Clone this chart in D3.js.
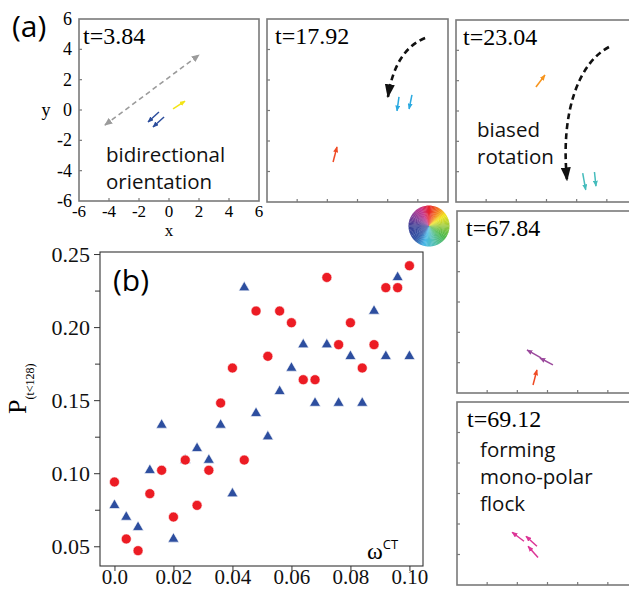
<!DOCTYPE html>
<html>
<head>
<meta charset="utf-8">
<script src="https://cdn.jsdelivr.net/npm/d3@7"></script>
<style>
  body { margin: 0; background: #fff; }
  svg { display: block; }
</style>
</head>
<body>
<svg id="fig"></svg>
<script>
const width = 629
const height = 589

// ---- (b) scatter data ----
const omega = [0, 0.004, 0.008, 0.012, 0.016, 0.020, 0.024, 0.028, 0.032, 0.036, 0.040, 0.044, 0.048,
               0.052, 0.056, 0.060, 0.064, 0.068, 0.072, 0.076, 0.080, 0.084, 0.088, 0.092, 0.096, 0.100]
const pCircle = [0.094, 0.055, 0.047, 0.086, 0.102, 0.070, 0.109, 0.078, 0.102, 0.148, 0.172, 0.109, 0.211,
                 0.180, 0.211, 0.203, 0.164, 0.164, 0.234, 0.188, 0.203, 0.172, 0.188, 0.227, 0.227, 0.242]
const pTriangle = [0.078, 0.070, 0.063, 0.102, 0.133, 0.055, 0.109, 0.117, 0.109, 0.133, 0.086, 0.227, 0.141,
                   0.125, 0.156, 0.172, 0.188, 0.148, 0.188, 0.148, 0.180, 0.148, 0.211, 0.180, 0.234, 0.180]
const yMajor = [0.05, 0.10, 0.15, 0.20, 0.25]
const yMinor = [0.075, 0.125, 0.175, 0.225]
const xTicks = [0, 0.02, 0.04, 0.06, 0.08, 0.10]

// ---- (a) snapshot data ----
const times = ['t=3.84', 't=17.92', 't=23.04', 't=67.84', 't=69.12']
const gridTicks = [-6, -4, -2, 0, 2, 4, 6]
// panel, tail x, tail y, head x, head y, heading group
const arrows = [
  [0, -0.67, -0.13, -1.40, -0.79, 'blue'],
  [0, -0.33, -0.46, -1.07, -1.12, 'blue'],
  [0, 0.27, 0.07, 1.07, 0.59, 'yellow'],
  [1, 2.75, 0.89, 2.62, -0.03, 'cyan'],
  [1, 3.61, 1.02, 3.42, 0.10, 'cyan'],
  [1, -1.62, -3.38, -1.36, -2.39, 'red'],
  [2, -0.70, 1.58, -0.10, 2.37, 'orange'],
  [2, 2.40, -4.10, 2.60, -5.20, 'teal'],
  [2, 3.18, -4.02, 3.28, -4.95, 'teal'],
  [3, 0.36, -4.15, -0.50, -3.69, 'purple'],
  [3, -0.43, -3.69, -1.36, -3.16, 'purple'],
  [3, -0.96, -5.47, -0.70, -4.48, 'red'],
  [4, -1.56, -3.13, -2.35, -2.54, 'magenta'],
  [4, -0.70, -3.46, -1.43, -2.80, 'magenta'],
  [4, -0.63, -4.19, -1.29, -3.46, 'magenta']
]
// bidirectional guide in panel 1
const guide = [[-4.27, -0.99], [2.0, 3.63]]
// dashed rotation paths: panel, control points
const flows = [
  [1, [[4.48, 4.75], [2.49, 3.97], [2.02, 0.89]]],
  [2, [[4.14, 4.22], [2.22, 3.23], [0.90, 0.07], [1.36, -4.55]]]
]
const notes = [
  [0, ['bidirectional', 'orientation']],
  [2, ['biased', 'rotation']],
  [4, ['forming', 'mono-polar', 'flock']]
]

// ---- layout / styles ----
const frames = [
  { x: 79, y: 19, w: 180, h: 182, tx: 4, nx: 27, ny: 143 },
  { x: 267, y: 19, w: 181, h: 183, tx: 8 },
  { x: 456, y: 20, w: 181, h: 182, tx: 7, nx: 21, ny: 117 },
  { x: 457, y: 211, w: 181, h: 182, tx: 9 },
  { x: 457, y: 402, w: 181, h: 183, tx: 10, nx: 23, ny: 55 }
]
const headingColor = {
  blue: '#2c4d9c', yellow: '#f3e417', cyan: '#2aa9e0', red: '#ef4a24',
  orange: '#f7941d', teal: '#45bcbc', purple: '#9b4a9d', magenta: '#dc3596'
}
const serif = '"Liberation Serif", "DejaVu Serif", serif'
const sans = '"Open Sans", "Noto Sans", sans-serif'

const svg = d3.select('#fig')
  .attr('width', width)
  .attr('height', height)
  .style('background', '#fff')
const defs = svg.append('defs')

function addHead(id, color, w, h) {
  defs.append('marker')
    .attr('id', id)
    .attr('viewBox', '0 0 10 10')
    .attr('refX', 9)
    .attr('refY', 5)
    .attr('markerWidth', w)
    .attr('markerHeight', h)
    .attr('markerUnits', 'userSpaceOnUse')
    .attr('preserveAspectRatio', 'none')
    .attr('orient', 'auto-start-reverse')
    .append('path')
    .attr('d', 'M0,0 L10,5 L0,10 z')
    .attr('fill', color)
}
Object.keys(headingColor).forEach(k => addHead('head-' + k, headingColor[k], 6, 5))
addHead('head-gray', '#9b9b9b', 8, 7)
addHead('head-big', '#111', 14, 10)

// ---- panels (a) ----
frames.forEach((f, i) => {
  const sx = d3.scaleLinear().domain([-6, 6]).range([f.x, f.x + f.w])
  const sy = d3.scaleLinear().domain([-6, 6]).range([f.y + f.h, f.y])
  const g = svg.append('g')

  g.append('rect')
    .attr('x', f.x).attr('y', f.y)
    .attr('width', f.w).attr('height', f.h)
    .attr('fill', '#fff')
    .attr('stroke', '#7a7a7a')
    .attr('stroke-width', 1.6)

  // inner ticks left & bottom
  g.selectAll('.ty').data(gridTicks.slice(1, -1)).join('line')
    .attr('x1', f.x).attr('x2', f.x + 3)
    .attr('y1', d => sy(d)).attr('y2', d => sy(d))
    .attr('stroke', '#7a7a7a').attr('stroke-width', 1.2)
  g.selectAll('.tx').data(gridTicks.slice(1, -1)).join('line')
    .attr('y1', f.y + f.h).attr('y2', f.y + f.h - 3)
    .attr('x1', d => sx(d)).attr('x2', d => sx(d))
    .attr('stroke', '#7a7a7a').attr('stroke-width', 1.2)

  if (i === 0) {
    g.selectAll('.ly').data(gridTicks).join('text')
      .attr('x', f.x - 7)
      .attr('y', d => sy(d))
      .attr('dy', '0.33em')
      .attr('text-anchor', 'end')
      .style('font', `18px ${serif}`)
      .text(d => d)
    g.selectAll('.lx').data(gridTicks).join('text')
      .attr('x', d => sx(d))
      .attr('y', f.y + f.h + 16)
      .attr('text-anchor', 'middle')
      .style('font', `17px ${serif}`)
      .text(d => d)
    g.append('text').attr('x', 46).attr('y', sy(0)).attr('dy', '0.33em')
      .attr('text-anchor', 'middle').style('font', `18px ${serif}`).text('y')
    g.append('text').attr('x', sx(0)).attr('y', f.y + f.h + 35)
      .attr('text-anchor', 'middle').style('font', `17px ${serif}`).text('x')

    g.append('line')
      .attr('x1', sx(guide[0][0])).attr('y1', sy(guide[0][1]))
      .attr('x2', sx(guide[1][0])).attr('y2', sy(guide[1][1]))
      .attr('stroke', '#9b9b9b')
      .attr('stroke-width', 1.6)
      .attr('stroke-dasharray', '5,3.5')
      .attr('marker-start', 'url(#head-gray)')
      .attr('marker-end', 'url(#head-gray)')
  }

  g.append('text')
    .attr('x', f.x + f.tx)
    .attr('y', f.y + 25)
    .style('font', `24px ${serif}`)
    .text(times[i])

  flows.filter(d => d[0] === i).forEach(d => {
    const p = d3.path()
    const pts = d[1].map(q => [sx(q[0]), sy(q[1])])
    p.moveTo(...pts[0])
    if (pts.length === 3) p.quadraticCurveTo(...pts[1], ...pts[2])
    else p.bezierCurveTo(...pts[1], ...pts[2], ...pts[3])
    g.append('path')
      .attr('d', p.toString())
      .attr('fill', 'none')
      .attr('stroke', '#111')
      .attr('stroke-width', 2.6)
      .attr('stroke-dasharray', '6,4')
      .attr('marker-end', 'url(#head-big)')
  })

  g.selectAll('.arrow').data(arrows.filter(d => d[0] === i)).join('line')
    .attr('x1', d => sx(d[1])).attr('y1', d => sy(d[2]))
    .attr('x2', d => sx(d[3])).attr('y2', d => sy(d[4]))
    .attr('stroke', d => headingColor[d[5]])
    .attr('stroke-width', 1.5)
    .attr('marker-end', d => `url(#head-${d[5]})`)

  notes.filter(d => d[0] === i).forEach(d => {
    g.selectAll('.note').data(d[1]).join('text')
      .attr('x', f.x + f.nx)
      .attr('y', (t, k) => f.y + f.ny + k * 27)
      .style('font', `20.5px ${sans}`)
      .attr('fill', '#111')
      .text(t => t)
  })
})

// colour wheel (heading legend)
const wheelStops = [0, 30, 55, 95, 125, 165, 195, 225, 270, 305, 335, 360]
const wheelColors = ['#e8202a', '#f37a21', '#f4e51c', '#8dc63f', '#4db848', '#55c0b4', '#48b9e9',
                     '#2f53a4', '#3a3f95', '#8a3e97', '#c5358d', '#e8202a']
const hue = d3.scaleLinear().domain(wheelStops).range(wheelColors)
const wheel = svg.append('g').attr('transform', 'translate(429,226)')
const seg = d3.range(0, 360, 4)
wheel.selectAll('path').data(seg).join('path')
  .attr('d', a => d3.arc()({ innerRadius: 0, outerRadius: 20.5,
    startAngle: (a - 0.4) * Math.PI / 180, endAngle: (a + 4.4) * Math.PI / 180 }))
  .attr('fill', a => hue(a + 2))

// labels (a) (b)
svg.append('text').attr('x', 12).attr('y', 37)
  .style('font', `30px ${sans}`).text('(a)')

// ---- (b) scatter ----
const x = d3.scaleLinear().domain([-0.0049, 0.1046]).range([100, 423])
const y = d3.scaleLinear().domain([0.0365, 0.2514]).range([566, 252])

const plot = svg.append('g')
plot.append('rect')
  .attr('x', 100).attr('y', 252)
  .attr('width', 323).attr('height', 314)
  .attr('fill', 'none')
  .attr('stroke', '#333')
  .attr('stroke-width', 1.1)

plot.append('g')
  .attr('transform', 'translate(100,0)')
  .call(d3.axisLeft(y).tickValues(yMajor).tickSize(6).tickSizeOuter(0).tickFormat(d3.format('.2f')))
  .call(a => a.select('.domain').remove())
  .call(a => a.selectAll('text').style('font', `22px ${serif}`).attr('x', -10).attr('fill', '#111'))
plot.append('g')
  .attr('transform', 'translate(100,0)')
  .call(d3.axisLeft(y).tickValues(yMinor).tickSize(5).tickFormat(''))
  .call(a => a.select('.domain').remove())
plot.append('g')
  .attr('transform', 'translate(0,566)')
  .call(d3.axisBottom(x).tickValues(xTicks).tickSize(5).tickSizeOuter(0)
    .tickFormat(d => d === 0 ? '0.0' : d3.format('.2f')(d)))
  .call(a => a.select('.domain').remove())
  .call(a => a.selectAll('text').style('font', `21px ${serif}`).attr('y', 18).attr('dy', 0).attr('fill', '#111'))
plot.selectAll('.tick line').attr('stroke', '#333')

plot.selectAll('.tri').data(omega).join('path')
  .attr('transform', (d, i) => `translate(${x(d)},${y(pTriangle[i])})`)
  .attr('d', d3.symbol(d3.symbolTriangle, 52))
  .attr('fill', '#2d4e9f')
  .attr('stroke', '#fff')
  .attr('stroke-width', 0.6)

plot.selectAll('.dot').data(omega).join('circle')
  .attr('cx', d => x(d))
  .attr('cy', (d, i) => y(pCircle[i]))
  .attr('r', 5)
  .attr('fill', '#ec1c24')
  .attr('stroke', '#fff')
  .attr('stroke-width', 0.6)

svg.append('text').attr('x', 113).attr('y', 291)
  .style('font', `30px ${sans}`).text('(b)')

const ylab = svg.append('text')
  .attr('transform', 'translate(26,414) rotate(-90)')
  .style('font', `26px ${serif}`)
ylab.append('tspan').text('P')
ylab.append('tspan').attr('dy', 8).style('font-size', '12px').text('(t<128)')

const xlab = svg.append('text').attr('x', 367).attr('y', 559).style('font', `24px ${serif}`)
xlab.append('tspan').text('ω')
xlab.append('tspan').attr('dy', -10).style('font', `13px ${sans}`).text('CT')
</script>
</body>
</html>
